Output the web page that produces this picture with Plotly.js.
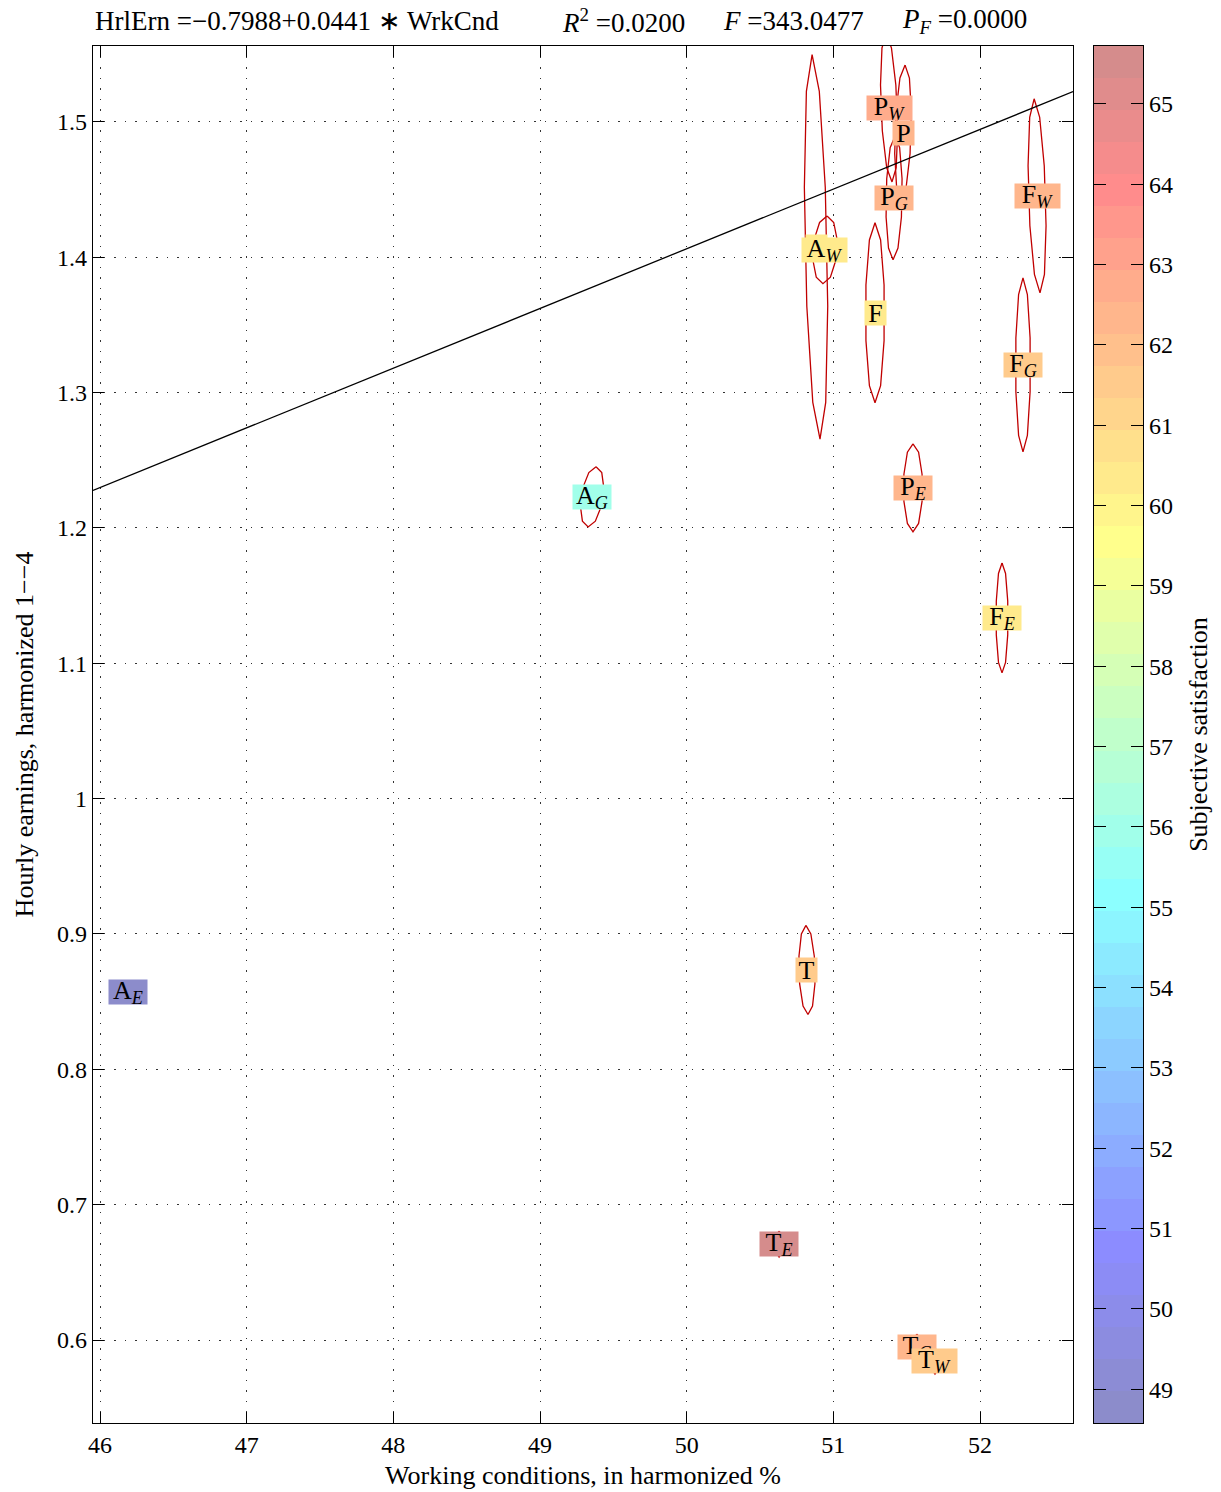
<!DOCTYPE html>
<html><head><meta charset="utf-8">
<script src="https://cdn.plot.ly/plotly-3.0.1.min.js"></script>
<style>body{margin:0;background:#fff}</style>
</head><body><div id="chart" style="width:1221px;height:1492px"></div>
<script>
// ---- data ----
const labelNames = ['A_E','A_G','A','A_W','F','F_G','F_E','F_W','P_E','P_G','P','P_W','T','T_E','T_G','T_W'];
const wrkCnd = [46.191,49.355,50.882,50.943,51.284,52.293,52.150,52.389,51.543,51.414,51.475,51.380,50.820,50.630,51.570,51.693];
const hrlErn = [0.8571,1.2229,1.4076,1.4054,1.3589,1.3204,1.1335,1.4453,1.2296,1.4438,1.4919,1.5103,0.8734,0.6709,0.5948,0.5845];
const satisfaction = [48.58,56.04,60.5,60.24,60.2,61.65,60.3,62.5,62.4,62.5,62.25,62.54,61.35,65.72,62.2,61.4];
const wrkCndHalfWidth = [0.01,0.075,0.075,0.082,0.065,0.051,0.041,0.058,0.065,0.055,0.055,0.055,0.055,0.02,0.02,0.02];
const hrlErnHalfHeight = [0.005,0.0222,0.142,0.025,0.0665,0.0643,0.0406,0.0717,0.0325,0.0458,0.050,0.0547,0.0329,0.0096,0.0096,0.0096];
const ellipseTilt = [0,0.027,-0.027,0.014,0,0,0,-0.02,0,0.007,0.014,-0.02,-0.007,0,0,0];
const regIntercept = -0.7988, regSlope = 0.0441;
const xTicks = [46,47,48,49,50,51,52];
const yTicks = [0.6,0.7,0.8,0.9,1,1.1,1.2,1.3,1.4,1.5];
const cbTicks = [49,50,51,52,53,54,55,56,57,58,59,60,61,62,63,64,65];
const xRange = [45.952,52.634];
const yRange = [0.5387,1.556];

// ---- colour map: jet, lightened ----
function jet(m){
  const n = Math.ceil(m/4);
  const u = [];
  for(let i=1;i<=n;i++) u.push(i/n);
  for(let i=1;i<n;i++) u.push(1);
  for(let i=n;i>=1;i--) u.push(i/n);
  const off = Math.ceil(n/2) - (m%4===1?1:0);
  const J = Array.from({length:m},()=>[0,0,0]);
  for(let i=0;i<u.length;i++){
    const g = off + i + 1, r = g + n, b = g - n;
    if(g>=1&&g<=m) J[g-1][1]=u[i];
    if(r>=1&&r<=m) J[r-1][0]=u[i];
    if(b>=1&&b<=m) J[b-1][2]=u[i];
  }
  return J;
}
const NB = 43;
const cmap = jet(NB).map(c=>'rgb('+c.map(v=>Math.round(255*(0.45*v+0.55))).join(',')+')');
const cmin = Math.min(...satisfaction), cmax = Math.max(...satisfaction);
function colorOf(v){
  let i = Math.floor((v-cmin)/(cmax-cmin)*NB);
  i = Math.max(0, Math.min(NB-1, i));
  return cmap[i];
}
const colorscale = [];
cmap.forEach((c,i)=>{ colorscale.push([i/NB,c]); colorscale.push([(i+1)/NB,c]); });

function labelHtml(s){
  const p = s.split('_');
  return p.length>1 ? p[0]+'<sub><i>'+p[1]+'</i></sub>' : p[0];
}
function labelWidth(s){
  const p = s.split('_');
  if(p.length===1) return 21;
  return p[1]==='W' ? 45 : 38;
}

const traces = [];
// ellipses
labelNames.forEach((nm,k)=>{
  const xs=[], ys=[];
  for(let j=0;j<=10;j++){
    const t = Math.PI/2 + 2*Math.PI*j/10;
    xs.push(wrkCnd[k] + wrkCndHalfWidth[k]*Math.cos(t) + ellipseTilt[k]*Math.sin(t));
    ys.push(hrlErn[k] + hrlErnHalfHeight[k]*Math.sin(t));
  }
  traces.push({x:xs,y:ys,mode:'lines',line:{color:'#c00000',width:1.3},hoverinfo:'skip',xaxis:'x',yaxis:'y'});
});
// regression line
traces.push({x:xRange, y:xRange.map(v=>regIntercept+regSlope*v), mode:'lines', line:{color:'black',width:1.3}, xaxis:'x', yaxis:'y', hoverinfo:'skip'});
// colorbar as heatmap
const bandCenters = [];
for(let i=0;i<NB;i++) bandCenters.push(cmin + (i+0.5)*(cmax-cmin)/NB);
traces.push({type:'heatmap', x:[0], y:bandCenters, z:bandCenters.map(v=>[v]), zmin:cmin, zmax:cmax,
  colorscale:colorscale, showscale:false, xaxis:'x2', yaxis:'y2', hoverinfo:'skip'});

const SERIF = 'Liberation Serif, Times New Roman, serif';
const annotations = labelNames.map((nm,k)=>({
  x:wrkCnd[k], y:hrlErn[k], xref:'x', yref:'y', text:labelHtml(nm), showarrow:false,
  bgcolor:colorOf(satisfaction[k]), borderpad:0, xanchor:'center', yanchor:'middle',
  width:labelWidth(nm), height:24, align:'center', valign:'middle',
  font:{family:SERIF, size:26, color:'black'}
}));
const titleY = 1 + 25/1377;
const tfont = {family:SERIF, size:27, color:'black'};
annotations.push({xref:'paper',yref:'paper',x:0,y:titleY,xanchor:'left',yanchor:'middle',showarrow:false,font:tfont,
  text:'HrlErn =−0.7988+0.0441 ∗ WrkCnd'});
annotations.push({xref:'paper',yref:'paper',x:(560-93)/1050,y:titleY,xanchor:'left',yanchor:'middle',showarrow:false,font:tfont,
  text:'<i>R</i><sup>2</sup> =0.0200'});
annotations.push({xref:'paper',yref:'paper',x:(721-93)/1050,y:titleY,xanchor:'left',yanchor:'middle',showarrow:false,font:tfont,
  text:'<i>F</i> =343.0477'});
annotations.push({xref:'paper',yref:'paper',x:(900-93)/1050,y:titleY,xanchor:'left',yanchor:'middle',showarrow:false,font:tfont,
  text:'<i>P<sub>F</sub></i> =0.0000'});

const tickFont = {family:SERIF, size:24, color:'black'};
const axisCommon = {showline:true, linecolor:'black', linewidth:1.3, ticks:'inside', ticklen:11, tickwidth:1, tickcolor:'black',
  mirror:'ticks', zeroline:false, showgrid:true, gridcolor:'#333', gridwidth:1, griddash:'1.5px,9px',
  tickfont:tickFont};

const layout = {
  width:1221, height:1492, margin:{l:93, r:78, t:46, b:69},
  paper_bgcolor:'white', plot_bgcolor:'white', showlegend:false,
  font:{family:SERIF, size:24, color:'black'},
  xaxis:Object.assign({}, axisCommon, {domain:[0,(1073-93)/1050], range:xRange, tickvals:xTicks, anchor:'y',
    title:{text:'Working conditions, in harmonized %', font:{family:SERIF, size:26}, standoff:8}}),
  yaxis:Object.assign({}, axisCommon, {domain:[0,1], range:yRange, tickvals:yTicks, anchor:'x',
    title:{text:'Hourly earnings, harmonized 1−−4', font:{family:SERIF, size:26}, standoff:15}}),
  xaxis2:{domain:[(1094-93)/1050,(1143-93)/1050], range:[-0.5,0.5], anchor:'y2', showticklabels:false, ticks:'',
    showline:true, mirror:true, linecolor:'black', linewidth:1.3, showgrid:false, zeroline:false},
  yaxis2:{domain:[0,1], range:[cmin,cmax], anchor:'x2', side:'right', tickvals:cbTicks, ticks:'inside', ticklen:12,
    tickcolor:'black', mirror:'ticks', showline:true, linecolor:'black', linewidth:1.3, showgrid:false, zeroline:false,
    tickfont:tickFont,
    title:{text:'Subjective satisfaction', font:{family:SERIF, size:26}, standoff:16}},
  annotations:annotations
};
Plotly.newPlot('chart', traces, layout, {displayModeBar:false, staticPlot:true});
</script></body></html>
